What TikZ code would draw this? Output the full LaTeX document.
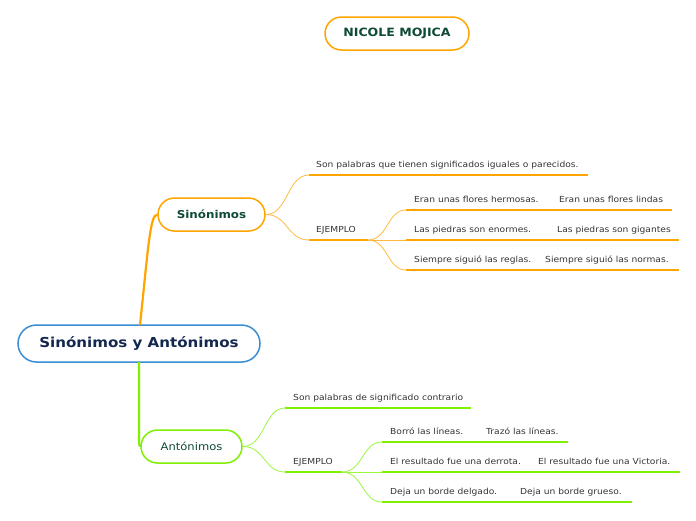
\documentclass[tikz,border=0pt]{standalone}
\usepackage{fontspec}
\setmainfont[FakeStretch=1.1]{DejaVu Sans}
\definecolor{orangeC}{HTML}{FFA500}
\definecolor{orangeT}{HTML}{FFB840}
\definecolor{greenC}{HTML}{80F000}
\definecolor{greenT}{HTML}{9CF540}
\definecolor{blueC}{HTML}{3A8DD3}
\definecolor{navyT}{HTML}{14284F}
\definecolor{dgreenT}{HTML}{0E4A36}
\definecolor{txtgray}{HTML}{333333}
\begin{document}
\begin{tikzpicture}[x=1pt,y=-1pt,
  topic/.style={draw, line width=1.5pt, fill=white, inner sep=0pt},
  lbl/.style={anchor=base west, inner sep=0pt, font=\fontsize{8.3}{10}\selectfont, text=txtgray},
  oline/.style={draw=orangeC, line width=2.5pt},
  gline/.style={draw=greenC, line width=2.5pt},
  othin/.style={draw=orangeT, line width=0.8pt},
  gthin/.style={draw=greenT, line width=0.8pt}]
\useasboundingbox (0,0) rectangle (696,520);

% topics
\node[topic, draw=orangeC, rounded corners=16.5pt, minimum width=144pt, minimum height=33pt,
  font=\fontsize{11.4}{13}\selectfont\bfseries, text=dgreenT] (nm) at (397,33.5) {NICOLE MOJICA};
\node[topic, draw=blueC, rounded corners=18.5pt, minimum width=242pt, minimum height=37pt,
  font=\fontsize{13.7}{16}\selectfont\bfseries, text=navyT] (main) at (139,343.5) {Sinónimos y Antónimos};
\node[topic, draw=orangeC, rounded corners=16.5pt, minimum width=107pt, minimum height=33pt,
  font=\fontsize{10.8}{13}\selectfont\bfseries, text=dgreenT] (sin) at (211.5,214.5) {Sinónimos};
\node[topic, draw=greenC, rounded corners=16.5pt, minimum width=101pt, minimum height=33pt,
  font=\fontsize{10.5}{13}\selectfont, text=dgreenT] (ant) at (191.5,446.5) {Antónimos};

% main connectors
\coordinate (mo) at (140,325);
\coordinate (mg) at (139,362);
\coordinate (mg2) at (139,438);
\draw[draw=orangeC, line width=2.2pt] (mo) .. controls (148,250) and (150,214.5) .. (sin.west);
\draw[draw=greenC, line width=2.2pt] (mg) -- (mg2) .. controls (139,446) and (140,446.5) .. (ant.west);

% Sinonimos branch
\coordinate (sdefA) at (309,175); \coordinate (sdefB) at (588,175);
\coordinate (sejA) at (309,240); \coordinate (sejB) at (368,240);
\node[lbl] (sdef) at (316,167.5) {Son palabras que tienen significados iguales o parecidos.};
\node[lbl] (sej) at (316,232.5) {EJEMPLO};
\draw[oline] (sdefA) -- (sdefB);
\draw[oline] (sejA) -- (sejB);
\draw[othin] (sin.east) .. controls (288,214.5) and (287,175) .. (sdefA);
\draw[othin] (sin.east) .. controls (288,214.5) and (287,240) .. (sejA);

\coordinate (se1A) at (406,210); \coordinate (se1B) at (672,210);
\coordinate (se2A) at (406,240); \coordinate (se2B) at (679,240);
\coordinate (se3A) at (406,270); \coordinate (se3B) at (679,270);
\draw[oline] (se1A) -- (se1B);
\draw[oline] (se2A) -- (se2B);
\draw[oline] (se3A) -- (se3B);
\draw[othin] (sejB) .. controls (388,240) and (387,210) .. (se1A);
\draw[othin] (sejB) -- (se2A);
\draw[othin] (sejB) .. controls (388,240) and (387,270) .. (se3A);
\node[lbl] (s1a) at (414,202.5) {Eran unas flores hermosas.};
\node[lbl] (s1b) at (559,202.5) {Eran unas flores lindas};
\node[lbl] (s2a) at (414,232.5) {Las piedras son enormes.};
\node[lbl] (s2b) at (557,232.5) {Las piedras son gigantes};
\node[lbl] (s3a) at (414,262.5) {Siempre siguió las reglas.};
\node[lbl] (s3b) at (545,262.5) {Siempre siguió las normas.};

% Antonimos branch
\coordinate (adefA) at (285,408); \coordinate (adefB) at (471,408);
\coordinate (aejA) at (285,472); \coordinate (aejB) at (342,472);
\node[lbl] (adef) at (293,400.5) {Son palabras de significado contrario};
\node[lbl] (aej) at (293,464.5) {EJEMPLO};
\draw[gline] (adefA) -- (adefB);
\draw[gline] (aejA) -- (aejB);
\draw[gthin] (ant.east) .. controls (265,446.5) and (264,408) .. (adefA);
\draw[gthin] (ant.east) .. controls (265,446.5) and (264,472) .. (aejA);

\coordinate (ae1A) at (382,442); \coordinate (ae1B) at (568,442);
\coordinate (ae2A) at (382,472); \coordinate (ae2B) at (680,472);
\coordinate (ae3A) at (382,502); \coordinate (ae3B) at (632,502);
\draw[gline] (ae1A) -- (ae1B);
\draw[gline] (ae2A) -- (ae2B);
\draw[gline] (ae3A) -- (ae3B);
\draw[gthin] (aejB) .. controls (363,472) and (362,442) .. (ae1A);
\draw[gthin] (aejB) -- (ae2A);
\draw[gthin] (aejB) .. controls (363,472) and (362,502) .. (ae3A);
\node[lbl] (a1a) at (390,434.5) {Borró las líneas.};
\node[lbl] (a1b) at (486,434.5) {Trazó las líneas.};
\node[lbl] (a2a) at (390,464.5) {El resultado fue una derrota.};
\node[lbl] (a2b) at (538,464.5) {El resultado fue una Victoria.};
\node[lbl] (a3a) at (390,494.5) {Deja un borde delgado.};
\node[lbl] (a3b) at (520,494.5) {Deja un borde grueso.};
\end{tikzpicture}
\end{document}
